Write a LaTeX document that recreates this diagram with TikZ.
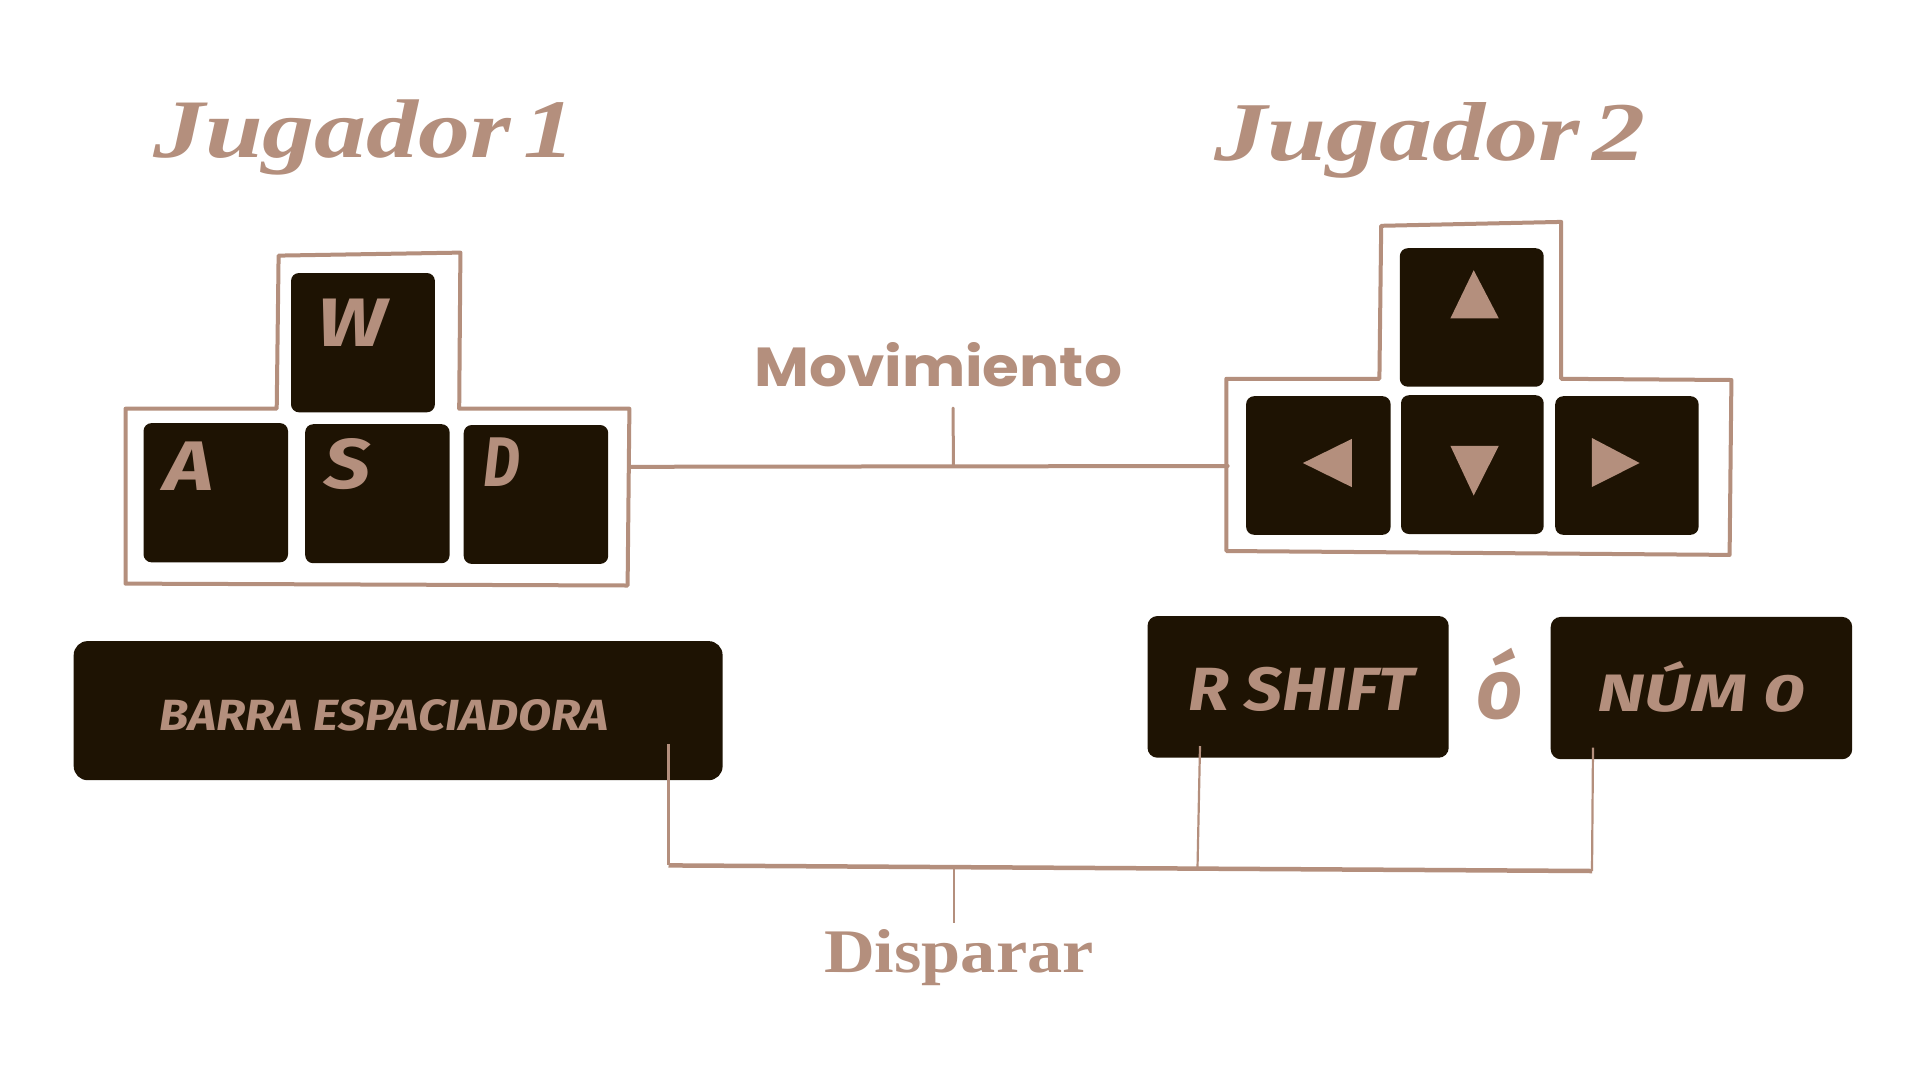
\documentclass[tikz,border=0pt]{standalone}
\usepackage{fontspec}
\newfontfamily\titlefont{Liberation Serif}
\newfontfamily\decofont{Poppins}
\newfontfamily\keyfont{Fira Sans}
\definecolor{tanbrown}{HTML}{B48F7D}
\definecolor{keydark}{HTML}{1E1303}
\tikzset{
  keybox/.style={fill=keydark, draw=none, rounded corners=8pt, inner sep=0pt, anchor=north west},
  txt/.style={inner sep=0pt, anchor=base west, text=tanbrown},
  frameline/.style={draw=tanbrown, line width=4pt, line join=round, line cap=round},
  thickconn/.style={draw=tanbrown, line width=4pt, line cap=round},
  thinconn/.style={draw=tanbrown, line width=2.2pt},
  arrowtri/.style={fill=tanbrown, draw=none}
}
\begin{document}
\begin{tikzpicture}[x=1pt,y=-1pt]
\useasboundingbox[fill=white] (0,0) rectangle (1920,1080);

% titles
\node[txt] (j1) at (153,157.7) {\resizebox{422pt}{57.7pt}{\titlefont\bfseries\itshape Jugador\hspace{0.12em}1}};
\node[txt] (j2) at (1214,160.7) {\resizebox{431pt}{58pt}{\titlefont\bfseries\itshape Jugador\hspace{0.12em}2}};

% WASD frame
\draw[frameline] (125.5,408.7) -- (276.7,408.7) -- (278.6,255.6) -- (460.4,252.6) -- (459.2,408.7) -- (629.4,408.7) -- (627.6,585.5) -- (125.5,583.6) -- cycle;

% WASD keys
\node[keybox, minimum width=143.9pt, minimum height=139.3pt] (kw) at (290.8,272.8) {};
\node[keybox, minimum width=144.5pt, minimum height=139.2pt] (ka) at (143.3,422.9) {};
\node[keybox, minimum width=144.4pt, minimum height=139pt] (ks) at (305,424) {};
\node[keybox, minimum width=144.5pt, minimum height=138.9pt] (kd) at (463.5,424.8) {};
\node[txt] (lw) at (317,346) {\resizebox{69pt}{47.5pt}{\keyfont\bfseries\itshape W}};
\node[txt] (la) at (164,490.6) {\resizebox{49pt}{48.6pt}{\keyfont\bfseries\itshape A}};
\node[txt] (ls) at (324.5,488) {\resizebox{46pt}{50pt}{\keyfont\bfseries\itshape S}};
\node[txt] (ld) at (483.7,486.7) {\resizebox{36.7pt}{48.7pt}{\keyfont\bfseries\itshape D}};

% Arrow frame
\draw[frameline] (1226.3,378.8) -- (1379.4,378.8) -- (1381.2,225.8) -- (1561.2,221.9) -- (1561.2,378.8) -- (1731.4,380) -- (1729.6,554.9) -- (1226.3,551) -- cycle;

% Arrow keys
\node[keybox, minimum width=143.9pt, minimum height=138.5pt] (kup) at (1399.6,248) {};
\node[keybox, minimum width=144.5pt, minimum height=138.6pt] (kleft) at (1245.9,396) {};
\node[keybox, minimum width=142.7pt, minimum height=138.8pt] (kdown) at (1400.8,395) {};
\node[keybox, minimum width=143.4pt, minimum height=138.6pt] (kright) at (1555,396) {};
\fill[arrowtri] (1473.7,270.2) -- (1498.8,318.4) -- (1450.4,318.4) -- cycle;
\fill[arrowtri] (1450.4,445.8) -- (1498.8,445.8) -- (1473.7,495.5) -- cycle;
\fill[arrowtri] (1302.9,463) -- (1351.8,438.9) -- (1351.8,487.1) -- cycle;
\fill[arrowtri] (1591.9,438) -- (1639.6,463) -- (1591.9,487) -- cycle;

% Movimiento
\node[txt] (mov) at (754,386) {\resizebox{368pt}{44pt}{\decofont\bfseries Movimiento}};
\coordinate (wasdE) at (629.4,466.8);
\coordinate (arrW) at (1227.6,466);
\coordinate (movJ) at (953.5,466.4);
\coordinate (movT) at (953,408);
\draw[thickconn] (wasdE) -- (arrW);
\draw[draw=tanbrown, line width=3pt, line cap=round] (movT) -- (movJ);

% bottom keys
\node[keybox, rounded corners=14pt, minimum width=648.9pt, minimum height=139.1pt] (kbar) at (73.5,640.9) {};
\node[keybox, rounded corners=10pt, minimum width=301.2pt, minimum height=141.7pt] (kshift) at (1147.3,615.8) {};
\node[keybox, rounded corners=10pt, minimum width=301.5pt, minimum height=142.3pt] (knum) at (1550.5,616.7) {};
\node[txt] (lbar) at (159,730) {\resizebox{449.5pt}{31pt}{\keyfont\bfseries\itshape BARRA ESPACIADORA}};
\node[txt] (lshift) at (1188.6,710) {\resizebox{225pt}{43.3pt}{\keyfont\bfseries\itshape R SHIFT}};
\node[txt] (lor) at (1476,718.3) {\resizebox{46.3pt}{70.3pt}{\keyfont\bfseries\itshape ó}};
\node[txt] (lnum) at (1596.8,711.7) {\resizebox{208.6pt}{50pt}{\keyfont\bfseries\itshape NÚM 0}};

% Disparar connectors
\coordinate (barT) at (668.5,743.9);
\coordinate (barB) at (668.5,865.4);
\coordinate (shT) at (1200,746);
\coordinate (shB) at (1197.5,868);
\coordinate (numT) at (1593,747.6);
\coordinate (numB) at (1592,871);
\coordinate (disJ) at (953.8,868.9);
\coordinate (disB) at (953.8,923.3);
\draw[thinconn] (barT) -- (barB);
\draw[thinconn] (shT) -- (shB);
\draw[thinconn] (numT) -- (numB);
\draw[draw=tanbrown, line width=4.5pt] (barB) -- (numB);
\draw[draw=tanbrown, line width=2.6pt] (disJ) -- (disB);
\node[txt] (dis) at (824,972) {\resizebox{269.4pt}{43pt}{\titlefont\bfseries Disparar}};
\end{tikzpicture}
\end{document}
